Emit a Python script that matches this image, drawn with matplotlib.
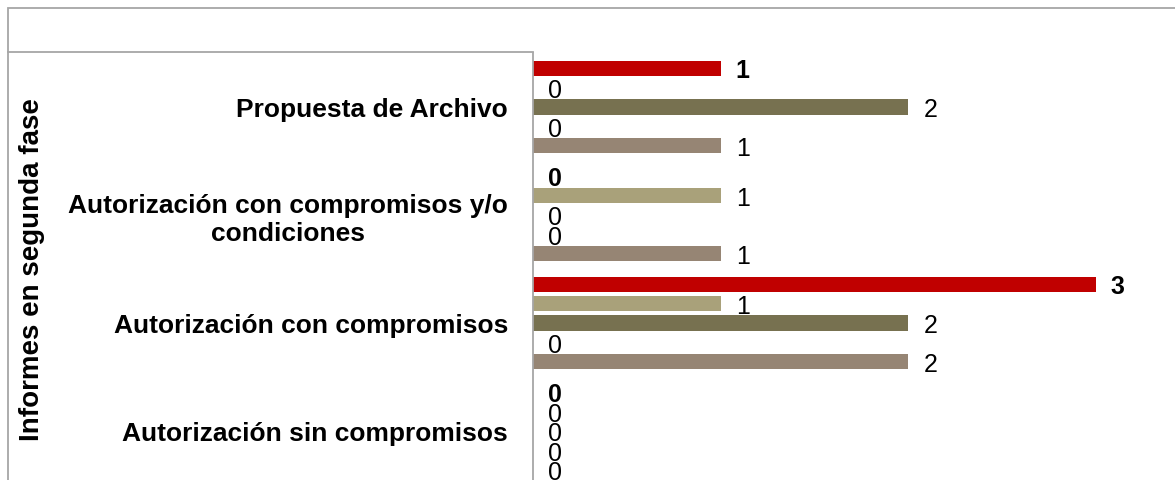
import numpy as np
import matplotlib
matplotlib.use("Agg")
import matplotlib.pyplot as plt
from matplotlib.patches import Rectangle
from matplotlib.lines import Line2D

plt.rcParams['font.family'] = ['Liberation Sans', 'DejaVu Sans']

# data (top to bottom as drawn)
categories = [
    "Propuesta de Archivo",
    "Autorización con compromisos y/o\ncondiciones",
    "Autorización con compromisos",
    "Autorización sin compromisos",
]
series_names = ["Serie 1", "Serie 2", "Serie 3", "Serie 4", "Serie 5"]
serie_1 = [1, 0, 3, 0]
serie_2 = [0, 1, 1, 0]
serie_3 = [2, 0, 2, 0]
serie_4 = [0, 0, 0, 0]
serie_5 = [1, 1, 2, 0]
series = [serie_1, serie_2, serie_3, serie_4, serie_5]
colors = ["#C00000", "#A9A17A", "#777150", "#B8B08F", "#968574"]
bold_labels = [True, False, False, False, False]
axis_title = "Informes en segunda fase"

W, H = 1175, 481
fig = plt.figure(figsize=(W / 100, H / 100), dpi=100)

# chart border (cut off at right and bottom)
grey = "#A6A6A6"
fig.patches.append(Rectangle((8 / W, -0.2), 1.5, (H - 9) / H + 0.2,
                             transform=fig.transFigure, fill=False,
                             edgecolor=grey, linewidth=1.3))

# axes spans x 533 -> beyond, y 54 -> 486 (pixels)
x0, y_top, y_bot = 533, 54, 486
ax = fig.add_axes([x0 / W, (H - y_bot) / H, (W - x0) / W, (y_bot - y_top) / H])

n_cat = len(categories)
n_ser = len(series)
band = 1.0
bar_slot = band * 0.9 / n_ser
bar_h = bar_slot * 0.78
y_cat = np.arange(n_cat)

for i, vals in enumerate(series):
    ypos = y_cat - band * 0.45 + bar_slot * (i + 0.5)
    ax.barh(ypos, vals, height=bar_h, color=colors[i], label=series_names[i])
    for y, v in zip(ypos, vals):
        ax.annotate(str(v), (v, y), xytext=(11, -1.5), textcoords="offset points",
                    va="center", ha="left", fontsize=18,
                    fontweight="bold" if bold_labels[i] else "normal")

px_per_unit = 187.5
ax.set_xlim(0, (W - x0) / px_per_unit)
ax.set_ylim(n_cat - 0.5, -0.5)
ax.set_xticks([])
ax.set_yticks(y_cat)
ax.set_yticklabels(categories, fontsize=19, fontweight="bold",
                   multialignment="center", linespacing=1.17)
ax.tick_params(axis="y", length=0, pad=18)
for s in ["top", "right", "bottom"]:
    ax.spines[s].set_visible(False)
ax.spines["left"].set_color(grey)
ax.spines["left"].set_linewidth(1.3)
ax.patch.set_alpha(0)

# box line above category labels
fig.add_artist(Line2D([8 / W, x0 / W], [(H - 53) / H, (H - 53) / H],
                      transform=fig.transFigure, color=grey, linewidth=1.3))

fig.text(32 / W, (H - 270) / H, axis_title, rotation=90, ha="center",
         va="center", fontsize=20, fontweight="bold")

fig.savefig("out.png", dpi=100)
